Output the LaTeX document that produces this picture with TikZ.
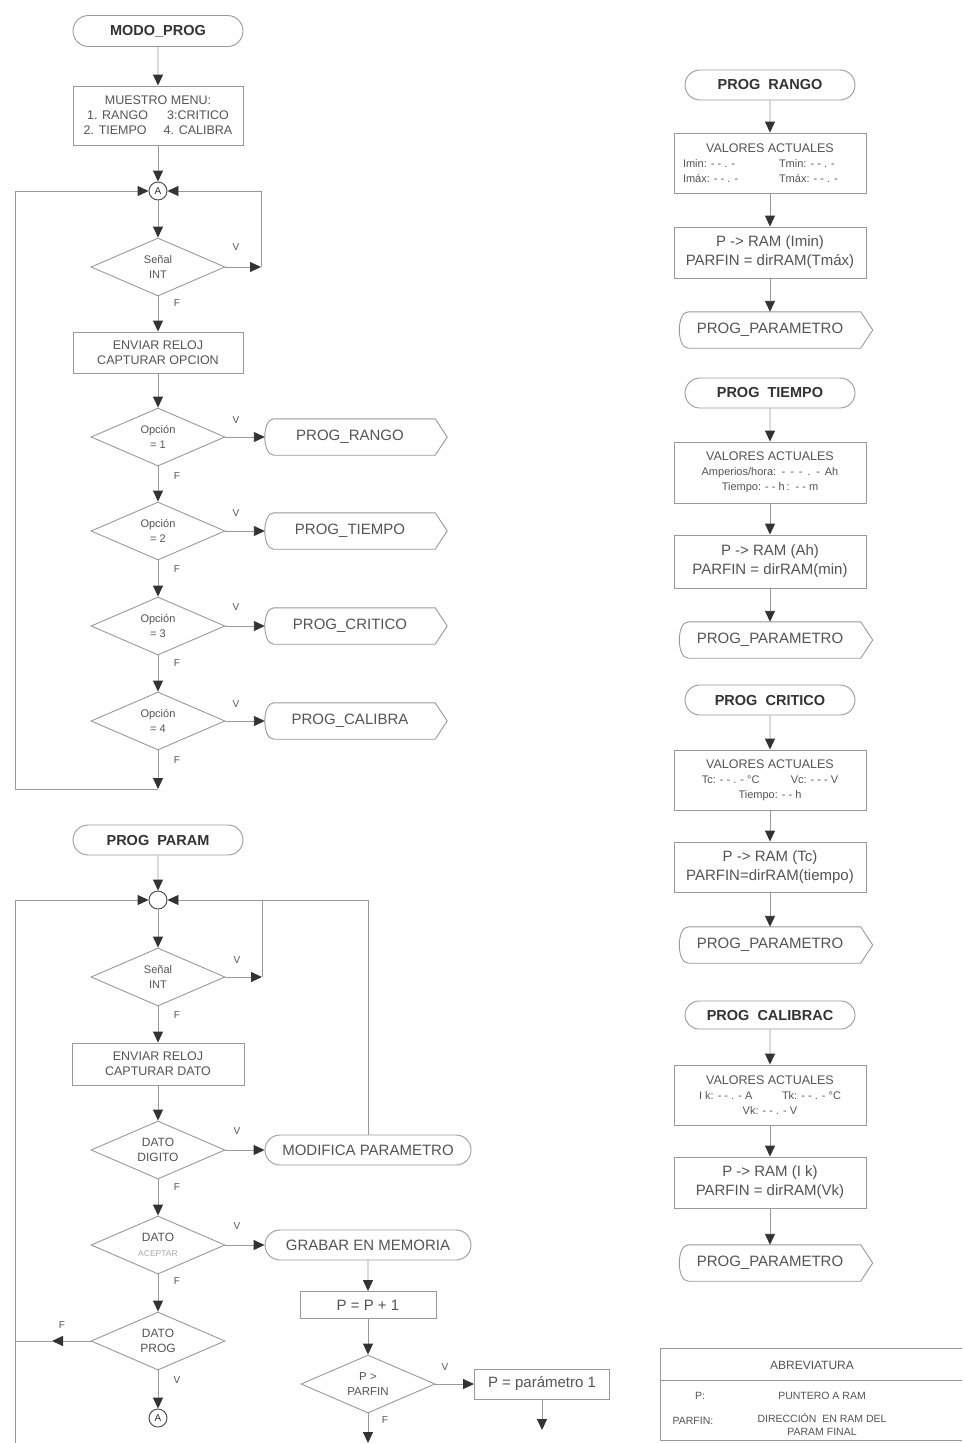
\documentclass[tikz,border=0pt]{standalone}
\usepackage{fontspec}
\setmainfont{Liberation Sans}
\usetikzlibrary{shapes.geometric,shapes.misc,arrows.meta}
\definecolor{ln}{gray}{0.6}
\definecolor{tx}{gray}{0.33}
\definecolor{ah}{gray}{0.2}
\newcommand{\fsz}[2]{\fontsize{#1}{#2}\selectfont}
\newcommand{\drawoffp}[1]{\draw[shp] ([xshift=9pt]#1.north west) -- (#1.north east) -- ([xshift=12pt]#1.east) -- (#1.south east) -- ([xshift=9pt]#1.south west) .. controls ([xshift=-3pt]#1.south west) and ([xshift=-3pt]#1.north west) .. ([xshift=9pt]#1.north west) -- cycle;}
\tikzset{
 shp/.style={draw=ln, line width=0.9pt},
 term/.style={rounded rectangle, shp, minimum width=170pt, minimum height=31pt, inner sep=0pt, font=\bfseries\fsz{14.5}{17}, text=ah},
 term2/.style={rounded rectangle, shp, minimum width=206pt, minimum height=30pt, inner sep=0pt, font=\fsz{15}{17}, text=tx},
 box/.style={rectangle, shp, inner sep=0pt, align=center, text=tx},
 dia/.style={diamond, shp, minimum width=134pt, minimum height=58pt, inner sep=0pt, aspect=2.3, align=center, text=tx, font=\fsz{11}{15}},
 offp/.style={rectangle, inner sep=0pt, minimum height=36pt, text=tx, font=\fsz{15}{17}},
 conn/.style={circle, draw=gray!55!black, line width=0.9pt, minimum size=18pt, inner sep=0pt, font=\fsz{10}{10}, text=ah},
 arr/.style={draw=ln, line width=0.9pt, -{Triangle[length=11pt,width=10pt,color=ah]}},
 cline/.style={draw=ln, line width=0.9pt},
 lbl/.style={font=\fsz{10}{12}, text=tx, inner sep=0pt},
 tbl/.style={font=\fsz{10.5}{13}, text=tx, inner sep=0pt, align=center},
 vbox/.style={box, minimum width=192pt, font=\fsz{11}{15}},
 pbox/.style={box, minimum width=192pt, font=\fsz{15}{19}},
}
\begin{document}
\begin{tikzpicture}[x=1pt,y=-1pt]
\useasboundingbox (0,0) rectangle (962,1443);
\fill[white] (0,0) rectangle (962,1443);

% ---------- MODO_PROG ----------
\node[term] (modo) at (158,31) {MODO\_PROG};
\node[box, minimum width=170pt, minimum height=59pt, font=\fsz{12.5}{15}] (menu) at (158,115.5)
  {MUESTRO MENU:\\ \makebox[80pt][l]{1. RANGO}3:CRITICO\\ \makebox[80pt][l]{2. TIEMPO}4. CALIBRA};
\node[conn] (A1) at (158,191) {A};
\node[dia] (sen1) at (158,267) {Señal\\INT};
\node[box, minimum width=170pt, minimum height=41pt, font=\fsz{12.5}{15}] (env1) at (158,352.5) {ENVIAR RELOJ\\CAPTURAR OPCION};
\node[dia] (op1) at (158,437) {Opción\\= 1};
\node[dia] (op2) at (158,531) {Opción\\= 2};
\node[dia] (op3) at (158,626) {Opción\\= 3};
\node[dia] (op4) at (158,721) {Opción\\= 4};
\node[offp, minimum width=170pt] (rango) at (350,437) {PROG\_RANGO};
\node[offp, minimum width=170pt] (tiempo) at (350,531) {PROG\_TIEMPO};
\node[offp, minimum width=170pt] (critico) at (350,626) {PROG\_CRITICO};
\node[offp, minimum width=170pt] (calibra) at (350,721) {PROG\_CALIBRA};
\drawoffp{rango}\drawoffp{tiempo}\drawoffp{critico}\drawoffp{calibra}

\coordinate (v1) at (261,267);
\coordinate (v1t) at (261,191);
\coordinate (b1) at (158,789);
\coordinate (lb) at (15,789);
\coordinate (lt) at (15,191);

\draw[arr] (modo) -- (menu);
\draw[arr] (menu) -- (A1);
\draw[arr] (A1) -- (sen1);
\draw[arr] (sen1) -- (v1);
\draw[arr] (v1) -- (v1t) -- (A1);
\draw[arr] (sen1) -- (env1);
\draw[arr] (env1) -- (op1);
\draw[arr] (op1) -- (op2);
\draw[arr] (op2) -- (op3);
\draw[arr] (op3) -- (op4);
\draw[arr] (op1) -- (rango);
\draw[arr] (op2) -- (tiempo);
\draw[arr] (op3) -- (critico);
\draw[arr] (op4) -- (calibra);
\draw[arr] (op4) -- (b1);
\draw[arr] (b1) -- (lb) -- (lt) -- (A1);

\node[lbl] (lv0) at (236,247) {V};
\node[lbl] (lf0) at (177,303) {F};
\node[lbl] (lv1) at (236,420) {V};
\node[lbl] (lf1) at (177,476) {F};
\node[lbl] (lv2) at (236,513) {V};
\node[lbl] (lf2) at (177,569) {F};
\node[lbl] (lv3) at (236,607) {V};
\node[lbl] (lf3) at (177,663) {F};
\node[lbl] (lv4) at (236,704) {V};
\node[lbl] (lf4) at (177,760) {F};

% ---------- PROG PARAM ----------
\node[term, minimum height=30pt] (param) at (158,840) {PROG~~PARAM};
\node[conn] (B) at (158,900) {};
\node[dia] (sen2) at (158,977) {Señal\\INT};
\node[box, minimum width=172pt, minimum height=42pt, font=\fsz{12.5}{15}] (env2) at (158,1064) {ENVIAR RELOJ\\CAPTURAR DATO};
\node[dia, font=\fsz{12}{15}] (dig) at (158,1150) {DATO\\DIGITO};
\node[dia, font=\fsz{12}{15}] (acep) at (158,1245) {DATO\\{\fsz{8.5}{10}\color{gray!65}ACEPTAR}};
\node[dia, font=\fsz{12}{15}] (dprog) at (158,1341) {DATO\\PROG};
\node[conn] (A2) at (158,1418) {A};
\node[term2] (modif) at (368,1150) {MODIFICA PARAMETRO};
\node[term2] (grabar) at (368,1245) {GRABAR EN MEMORIA};
\node[box, minimum width=136pt, minimum height=27pt, font=\fsz{15}{17}] (inc) at (368,1305) {P = P + 1};
\node[dia, font=\fsz{11.5}{15}] (pgt) at (368,1384) {P >\\PARFIN};
\node[box, minimum width=135pt, minimum height=30pt, font=\fsz{15}{17}] (pone) at (542,1384) {P = parámetro 1};

\coordinate (v2) at (262,977);
\coordinate (v2t) at (262,900);
\coordinate (mt) at (368,900);
\coordinate (pe) at (542,1430);
\coordinate (pb) at (368,1443);
\coordinate (fl) at (52,1341);
\coordinate (fl0) at (15,1341);
\coordinate (lbot) at (15,1443);
\coordinate (ltop) at (15,900);

\draw[arr] (param) -- (B);
\draw[arr] (B) -- (sen2);
\draw[arr] (sen2) -- (v2);
\draw[cline] (v2) -- (v2t);
\draw[arr] (modif) -- (mt) -- (B);
\draw[arr] (sen2) -- (env2);
\draw[arr] (env2) -- (dig);
\draw[arr] (dig) -- (acep);
\draw[arr] (acep) -- (dprog);
\draw[arr] (dprog) -- (A2);
\draw[arr] (dig) -- (modif);
\draw[arr] (acep) -- (grabar);
\draw[arr] (grabar) -- (inc);
\draw[arr] (inc) -- (pgt);
\draw[arr] (pgt) -- (pone);
\draw[arr] (pone) -- (pe);
\draw[arr] (pgt) -- (pb);
\draw[arr] (dprog) -- (fl);
\draw[cline] (fl) -- (fl0);
\draw[arr] (lbot) -- (ltop) -- (B);

\node[lbl] (lv5) at (237,960) {V};
\node[lbl] (lf5) at (177,1015) {F};
\node[lbl] (lv6) at (237,1131) {V};
\node[lbl] (lf6) at (177,1187) {F};
\node[lbl] (lv7) at (237,1226) {V};
\node[lbl] (lf7) at (177,1281) {F};
\node[lbl] (lf8) at (62,1325) {F};
\node[lbl] (lv8) at (177,1380) {V};
\node[lbl] (lv9) at (445,1367) {V};
\node[lbl] (lf9) at (385,1420) {F};

% ---------- Right column ----------
\node[term, minimum height=30pt] (t1) at (770,85) {PROG~~RANGO};
\node[vbox, minimum height=60pt] (vr1) at (770,163)
  {{\fsz{12.5}{15}VALORES ACTUALES}\\ \makebox[96pt][l]{Imin: - - . -}\makebox[78pt][l]{Tmin: - - . -}\\ \makebox[96pt][l]{Imáx: - - . -}\makebox[78pt][l]{Tmáx: - - . -}};
\node[pbox, minimum height=51pt] (pr1) at (770,252.5) {P -> RAM (Imin)\\PARFIN = dirRAM(Tmáx)};
\node[offp, minimum width=181pt] (pp1) at (770,330) {PROG\_PARAMETRO};
\drawoffp{pp1}

\node[term, minimum height=30pt] (t2) at (770,393) {PROG~~TIEMPO};
\node[vbox, minimum height=61pt] (vr2) at (770,472.5)
  {{\fsz{12.5}{15}VALORES ACTUALES}\\ Amperios/hora:\enspace - \,- \,- \,. \,- \,Ah\\ Tiempo: - - h\,:\, - - m};
\node[pbox, minimum height=53pt] (pr2) at (770,561.5) {P -> RAM (Ah)\\PARFIN = dirRAM(min)};
\node[offp, minimum width=181pt] (pp2) at (770,640) {PROG\_PARAMETRO};
\drawoffp{pp2}

\node[term, minimum height=30pt] (t3) at (770,700) {PROG~~CRITICO};
\node[vbox, minimum height=60pt] (vr3) at (770,780)
  {{\fsz{12.5}{15}VALORES ACTUALES}\\ \makebox[89pt][l]{Tc: - - . - °C}Vc: - - - V\\ Tiempo: - - h};
\node[pbox, minimum height=50pt] (pr3) at (770,867) {P -> RAM (Tc)\\PARFIN=dirRAM(tiempo)};
\node[offp, minimum width=181pt] (pp3) at (770,945) {PROG\_PARAMETRO};
\drawoffp{pp3}

\node[term, minimum height=28pt] (t4) at (770,1015) {PROG~~CALIBRAC};
\node[vbox, minimum height=60pt] (vr4) at (770,1095)
  {{\fsz{12.5}{15}VALORES ACTUALES}\\ \makebox[83pt][l]{I k: - - . - A}Tk: - - . - °C\\ Vk: - - . - V};
\node[pbox, minimum height=51pt] (pr4) at (770,1182.5) {P -> RAM (I k)\\PARFIN = dirRAM(Vk)};
\node[offp, minimum width=181pt] (pp4) at (770,1263) {PROG\_PARAMETRO};
\drawoffp{pp4}

\draw[arr] (t1) -- (vr1);
\draw[arr] (vr1) -- (pr1);
\draw[arr] (pr1) -- (pp1);
\draw[arr] (t2) -- (vr2);
\draw[arr] (vr2) -- (pr2);
\draw[arr] (pr2) -- (pp2);
\draw[arr] (t3) -- (vr3);
\draw[arr] (vr3) -- (pr3);
\draw[arr] (pr3) -- (pp3);
\draw[arr] (t4) -- (vr4);
\draw[arr] (vr4) -- (pr4);
\draw[arr] (pr4) -- (pp4);

% ---------- Table ----------
\draw[cline] (962,1348) -- (660,1348) -- (660,1440) -- (962,1440);
\draw[cline] (660,1380) -- (962,1380);
\node[tbl, font=\fsz{12}{14}] (abr) at (812,1365) {ABREVIATURA};
\node[tbl] (tp) at (700,1396) {P:};
\node[tbl] (tpd) at (822,1396) {PUNTERO A RAM};
\node[tbl] (tpf) at (693,1421) {PARFIN:};
\node[tbl] (tpfd) at (822,1424) {DIRECCIÓN\ \ EN RAM DEL\\PARAM FINAL};
\end{tikzpicture}
\end{document}
